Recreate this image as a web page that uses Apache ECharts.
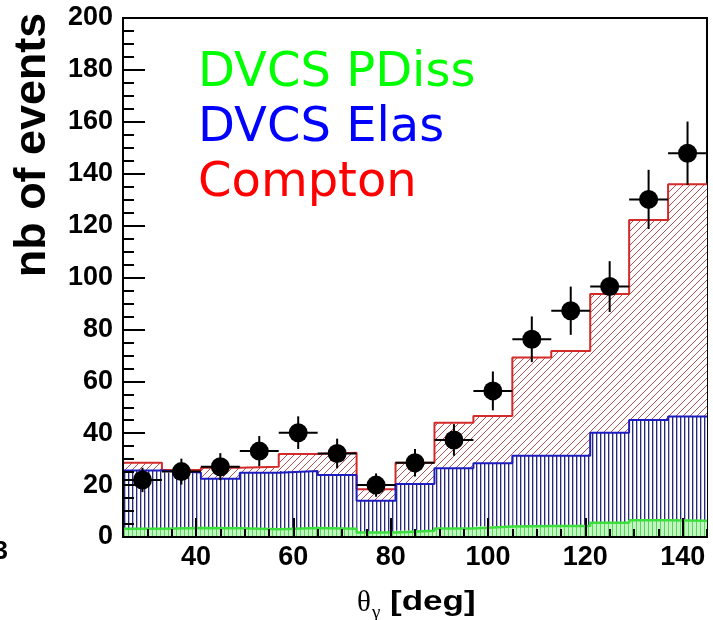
<!DOCTYPE html>
<html><head><meta charset="utf-8">
<script src="https://cdn.jsdelivr.net/npm/echarts@6/dist/echarts.min.js"></script>
<style>html,body{margin:0;padding:0;background:#fff}#c{width:713px;height:620px}</style>
</head><body><div id="c"></div>
<script>
// ---- data ----
const binEdges   = [25,33,41,49,57,65,73,81,89,97,105,113,121,129,137,145];
const binCenters = [29,37,45,53,61,69,77,85,93,101,109,117,125,133,141];
const dataCounts = [22.0,25.2,27.1,33.1,40.2,32.2,20.0,28.6,37.4,56.3,76.2,87.2,96.5,130.1,147.9];
const dataErrors = [4.7,5.0,5.2,5.8,6.3,5.7,4.5,5.3,6.1,7.5,8.8,9.3,9.8,11.4,12.2];
const comptonTop = [28.6,25.8,26.7,27.1,32.0,32.5,18.4,28.6,44.0,46.6,69.2,71.7,93.6,122.2,135.9];
const elasTop    = [25.6,24.9,22.4,24.8,25.4,23.9,14.0,20.4,26.5,28.4,31.3,31.3,40.2,45.1,46.4];
const pdissTop   = [3.2,3.5,3.4,3.0,3.5,3.2,1.7,2.4,3.3,4.0,4.2,4.2,5.5,6.5,6.3];
const legendLabels = ['DVCS PDiss','DVCS Elas','Compton'];
const xTitle = ['θ','γ','[deg]'];
const yTitle = 'nb of events';

// ---- hatch patterns ----
function makePattern(w, h, bg, draw){
  const c = document.createElement('canvas'); c.width = w; c.height = h;
  const ctx = c.getContext('2d');
  ctx.fillStyle = bg; ctx.fillRect(0,0,w,h);
  draw(ctx);
  return {image: c, repeat: 'repeat'};
}
const redHatch = makePattern(7,7,'#ffffff', ctx=>{
  for(let i=0;i<7;i++){ ctx.fillStyle='rgba(170,50,50,0.85)'; ctx.fillRect(i,6-i,1,1); }
});
const blueHatch = makePattern(4,4,'#ffffff', ctx=>{
  ctx.fillStyle='#2a2a78'; ctx.fillRect(0,0,1,4);
  ctx.fillStyle='#b4b4d4'; ctx.fillRect(1,0,1,4);
});
const greenHatch = makePattern(4,4,'#c4f4c4', ctx=>{
  ctx.fillStyle='#55d855'; ctx.fillRect(0,0,1,4);
});

function band(name, lower, upper, fill, z){
  return {
    type:'custom', name, z, silent:true,
    data: upper.map((u,i)=>[binEdges[i], binEdges[i+1], lower ? lower[i] : 0, u]),
    encode:{x:[0,1], y:[2,3]},
    renderItem(params, api){
      const a = api.coord([api.value(0), api.value(3)]);
      const b = api.coord([api.value(1), api.value(2)]);
      return {type:'rect', shape:{x:a[0], y:a[1], width:b[0]-a[0], height:b[1]-a[1]}, style:{fill}};
    }
  };
}
function stepLine(name, vals, color, width, z){
  return {
    type:'line', name, step:'end', z, silent:true, symbol:'none',
    lineStyle:{color, width},
    data: binEdges.map((e,i)=>[e, vals[Math.min(i, vals.length-1)]])
  };
}

const chart = echarts.init(document.getElementById('c'), null, {renderer:'canvas'});
const labelFont = {fontFamily:'Liberation Sans', fontWeight:'bold', fontSize:27, color:'#000'};
chart.setOption({
  animation:false,
  grid:{left:123, right:6, top:18, bottom:83, show:true, borderColor:'#000', borderWidth:2, backgroundColor:'transparent'},
  xAxis:[{
    type:'value', min:25, max:145, position:'bottom', z:4,
    axisLine:{lineStyle:{color:'#000', width:2}},
    axisTick:{inside:true, length:19, lineStyle:{color:'#000', width:2}},
    axisLabel:Object.assign({margin:7, showMinLabel:false, showMaxLabel:false}, labelFont),
    splitLine:{show:false}
  },{
    type:'value', min:25, max:145, interval:5, position:'bottom', z:4,
    axisLine:{show:false},
    axisTick:{inside:true, length:8, lineStyle:{color:'#000', width:2}},
    axisLabel:{show:false}, splitLine:{show:false}
  }],
  yAxis:{
    type:'value', min:0, max:200, interval:20, z:4,
    axisLine:{show:true, lineStyle:{color:'#000', width:2}},
    axisTick:{inside:true, length:22, lineStyle:{color:'#000', width:2}},
    minorTick:{show:true, splitNumber:4, length:11, lineStyle:{color:'#000', width:2}},
    axisLabel:Object.assign({margin:10}, labelFont),
    splitLine:{show:false}
  },
  series:[
    band('Compton fill', elasTop, comptonTop, redHatch, 1),
    band('Elas fill', pdissTop, elasTop, blueHatch, 1),
    band('PDiss fill', null, pdissTop, greenHatch, 1),
    stepLine('Compton', comptonTop, '#d42a2a', 2, 2),
    stepLine('DVCS Elas', elasTop, '#1c1cc0', 2, 2),
    stepLine('DVCS PDiss', pdissTop, '#3ce03c', 2.5, 2),
    {
      type:'custom', name:'errors', z:5, silent:true,
      data: binCenters.map((x,i)=>[x, dataCounts[i], dataErrors[i], binEdges[i], binEdges[i+1]]),
      encode:{x:0, y:1},
      renderItem(params, api){
        const c = api.coord([api.value(0), api.value(1)]);
        const lo = api.coord([api.value(0), api.value(1)-api.value(2)]);
        const hi = api.coord([api.value(0), api.value(1)+api.value(2)]);
        const l = api.coord([api.value(3), api.value(1)]);
        const r = api.coord([api.value(4), api.value(1)]);
        const st = {stroke:'#000', lineWidth:2};
        return {type:'group', children:[
          {type:'line', shape:{x1:l[0], y1:c[1], x2:r[0], y2:c[1]}, style:st},
          {type:'line', shape:{x1:c[0], y1:hi[1], x2:c[0], y2:lo[1]}, style:st}
        ]};
      }
    },
    {
      type:'scatter', name:'data', z:6, symbol:'circle', symbolSize:19, silent:true,
      itemStyle:{color:'#000', opacity:1},
      data: binCenters.map((x,i)=>[x, dataCounts[i]])
    }
  ],
  graphic:[
    {type:'text', x:198, y:74, style:{text:legendLabels[0], font:'48px "DejaVu Sans"', fill:'#00ff00', verticalAlign:'middle'}},
    {type:'text', x:198, y:129, style:{text:legendLabels[1], font:'48px "DejaVu Sans"', fill:'#0000ff', verticalAlign:'middle'}},
    {type:'text', x:198, y:184, style:{text:legendLabels[2], font:'48px "DejaVu Sans"', fill:'#ff0000', verticalAlign:'middle'}},
    {type:'text', x:33, y:145, rotation:Math.PI/2, scaleX:1.02,
      style:{text:yTitle, font:'bold 44px "Liberation Sans"', fill:'#000', align:'center', verticalAlign:'middle'}},
    {type:'text', x:8, y:552, style:{text:'3', font:'bold 26px "Liberation Sans"', fill:'#000', align:'right', verticalAlign:'middle'}},
    {type:'text', x:357, y:603, style:{text:xTitle[0], font:'29px "Liberation Serif"', fill:'#000', align:'left', verticalAlign:'middle'}},
    {type:'text', x:372, y:613, style:{text:xTitle[1], font:'19px "Liberation Serif"', fill:'#000', align:'left', verticalAlign:'middle'}},
    {type:'text', x:390, y:602, scaleX:1.25, style:{text:xTitle[2], font:'bold 28px "Liberation Sans"', fill:'#000', align:'left', verticalAlign:'middle'}}
  ]
});
</script></body></html>
